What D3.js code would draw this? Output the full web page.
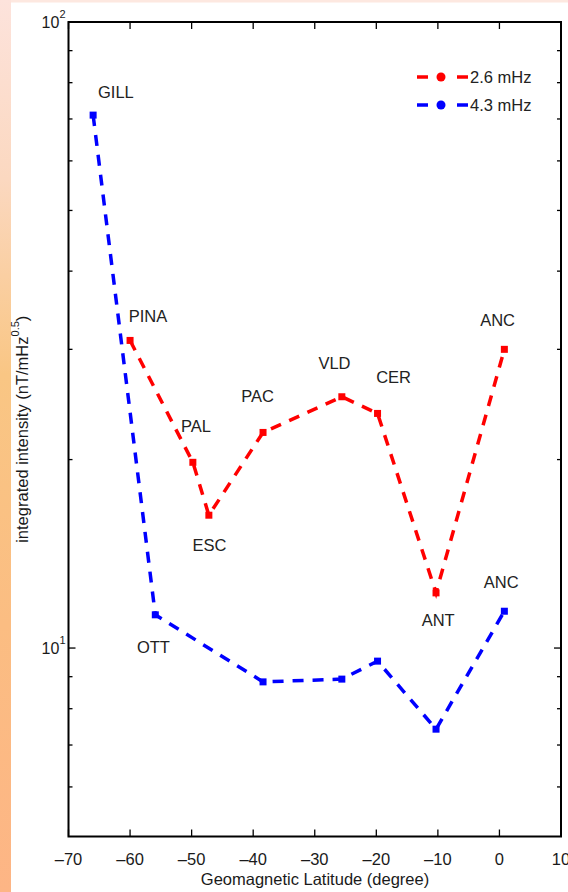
<!DOCTYPE html>
<html>
<head>
<meta charset="utf-8">
<script src="https://cdn.jsdelivr.net/npm/d3@7"></script>
<style>
html,body{margin:0;padding:0;background:#fff;}
svg{display:block;}
</style>
</head>
<body>
<script>
// ---- data ----
const seriesNames = ["2.6 mHz", "4.3 mHz"];
const seriesColors = ["#ff0000", "#0000ff"];
const stationsRed = ["PINA", "PAL", "ESC", "PAC", "VLD", "CER", "ANT", "ANC"];
const latRed = [-60, -49.8, -47.2, -38.4, -25.6, -19.8, -10.3, 0.8];
const valRed = [31.0, 19.8, 16.3, 22.1, 25.2, 23.7, 12.25, 30.0];
const stationsBlue = ["GILL", "OTT", "", "", "", "", "ANC"];
const latBlue = [-66, -55.9, -38.4, -25.6, -19.8, -10.3, 0.8];
const valBlue = [71, 11.3, 8.83, 8.92, 9.53, 7.42, 11.45];
const xTicks = [-70, -60, -50, -40, -30, -20, -10, 0, 10];
const yMajorTicks = [10, 100];
const yMinorTicks = [6, 7, 8, 9, 20, 30, 40, 50, 60, 70, 80, 90];
// station text anchors (data units)
const labelsRed = [
  {name: "PINA", lat: -57.1, val: 33.2},
  {name: "PAL",  lat: -49.3, val: 22.1},
  {name: "ESC",  lat: -47.1, val: 14.3},
  {name: "PAC",  lat: -39.3, val: 24.7},
  {name: "VLD",  lat: -26.8, val: 27.9},
  {name: "CER",  lat: -17.2, val: 26.5},
  {name: "ANT",  lat: -9.95, val: 10.84},
  {name: "ANC",  lat: -0.3,  val: 32.7}
];
const labelsBlue = [
  {name: "GILL", lat: -62.3, val: 75.6},
  {name: "OTT",  lat: -56.2, val: 9.82},
  {name: "ANC",  lat: 0.3,   val: 12.47}
];

const W = 568, H = 892;
const margin = {left: 68.5, top: 22, right: W - 561, bottom: H - 836.5};

const svg = d3.select("body").append("svg").attr("width", W).attr("height", H);
const defs = svg.append("defs");
const grad = defs.append("linearGradient").attr("id", "bg").attr("x1", 0).attr("y1", 0).attr("x2", 0).attr("y2", 1);
[["0%", "#fde3dc"], ["20%", "#fbd8c0"], ["42%", "#f9c684"], ["70%", "#fbbd82"], ["100%", "#fdb585"]]
  .forEach(([o, c]) => grad.append("stop").attr("offset", o).attr("stop-color", c));

svg.append("rect").attr("x", 0).attr("y", 0).attr("width", 11).attr("height", H).attr("fill", "url(#bg)");
svg.append("rect").attr("x", 11).attr("y", 0).attr("width", W - 11).attr("height", 2.5).attr("fill", "#fde8e0");

const x = d3.scaleLinear().domain([-70, 10]).range([margin.left, W - margin.right]);
const y = d3.scaleLog().domain([5, 100]).range([H - margin.bottom, margin.top]);

const font = "'Liberation Sans', Arial, Helvetica, sans-serif";
const fs = 16.5;
const x0 = x.range()[0], x1 = x.range()[1], y0 = y.range()[0], y1 = y.range()[1];

// ticks (inward)
const g = svg.append("g");
xTicks.forEach(t => {
  g.append("line").attr("x1", x(t)).attr("x2", x(t)).attr("y1", y0).attr("y2", y0 - 7).attr("stroke", "#000").attr("stroke-width", 1.3);
  g.append("line").attr("x1", x(t)).attr("x2", x(t)).attr("y1", y1).attr("y2", y1 + 7).attr("stroke", "#000").attr("stroke-width", 1.3);
  g.append("text").attr("x", x(t)).attr("y", y0 + 28).attr("text-anchor", "middle")
    .attr("font-family", font).attr("font-size", fs).attr("fill", "#1a1a1a")
    .text(t < 0 ? "\u2013" + Math.abs(t) : t);
});
yMajorTicks.forEach(t => {
  g.append("line").attr("x1", x0).attr("x2", x0 + 7).attr("y1", y(t)).attr("y2", y(t)).attr("stroke", "#000").attr("stroke-width", 1.3);
  g.append("line").attr("x1", x1).attr("x2", x1 - 7).attr("y1", y(t)).attr("y2", y(t)).attr("stroke", "#000").attr("stroke-width", 1.3);
  const tx = g.append("text").attr("x", x0 - 3).attr("y", y(t) + 6).attr("text-anchor", "end")
    .attr("font-family", font).attr("font-size", 16).attr("fill", "#1a1a1a");
  tx.append("tspan").text("10");
  tx.append("tspan").attr("dy", -10).attr("font-size", 11).text(Math.round(Math.log10(t)));
});
yMinorTicks.forEach(t => {
  g.append("line").attr("x1", x0).attr("x2", x0 + 4).attr("y1", y(t)).attr("y2", y(t)).attr("stroke", "#000").attr("stroke-width", 1.3);
  g.append("line").attr("x1", x1).attr("x2", x1 - 4).attr("y1", y(t)).attr("y2", y(t)).attr("stroke", "#000").attr("stroke-width", 1.3);
});

// box
svg.append("rect").attr("x", x0).attr("y", y1).attr("width", x1 - x0).attr("height", y0 - y1)
  .attr("fill", "none").attr("stroke", "#000").attr("stroke-width", 2);

// axis labels
svg.append("text").attr("x", 315).attr("y", 885).attr("text-anchor", "middle")
  .attr("font-family", font).attr("font-size", fs).attr("fill", "#1a1a1a")
  .text("Geomagnetic Latitude (degree)");
const yl = svg.append("text").attr("transform", `translate(28,${(y0 + y1) / 2}) rotate(-90)`)
  .attr("text-anchor", "middle").attr("font-family", font).attr("font-size", fs).attr("fill", "#1a1a1a");
yl.append("tspan").text("integrated intensity (nT/mHz");
yl.append("tspan").attr("dy", -9).attr("font-size", 11).text("0.5");
yl.append("tspan").attr("dy", 9).text(")");

// series
const line = d3.line().x(d => x(d[0])).y(d => y(d[1]));
function drawSeries(lats, vals, color) {
  const pts = lats.map((l, i) => [l, vals[i]]);
  svg.append("path").datum(pts).attr("d", line).attr("fill", "none")
    .attr("stroke", color).attr("stroke-width", 3.5).attr("stroke-dasharray", "11,9");
  svg.selectAll(null).data(pts).enter().append("rect")
    .attr("x", d => x(d[0]) - 3.5).attr("y", d => y(d[1]) - 3.5)
    .attr("width", 7).attr("height", 7).attr("fill", color);
}
drawSeries(latRed, valRed, seriesColors[0]);
drawSeries(latBlue, valBlue, seriesColors[1]);

// station labels
function drawLabels(labels) {
  labels.forEach(l => {
    svg.append("text").attr("x", x(l.lat)).attr("y", y(l.val)).attr("text-anchor", "middle")
      .attr("font-family", font).attr("font-size", fs).attr("fill", "#222")
      .text(l.name);
  });
}
drawLabels(labelsRed);
drawLabels(labelsBlue);

// legend
const legY = [77, 105];
seriesNames.forEach((n, i) => {
  const lg = svg.append("g");
  lg.append("line").attr("x1", 417).attr("x2", 468).attr("y1", legY[i]).attr("y2", legY[i])
    .attr("stroke", seriesColors[i]).attr("stroke-width", 3.5).attr("stroke-dasharray", "11,29,11,0");
  lg.append("circle").attr("cx", 441).attr("cy", legY[i]).attr("r", 4.5).attr("fill", seriesColors[i]);
  lg.append("text").attr("x", 470).attr("y", legY[i] + 6).attr("font-family", font)
    .attr("font-size", fs).attr("fill", "#222").text(n);
});
</script>
</body>
</html>
